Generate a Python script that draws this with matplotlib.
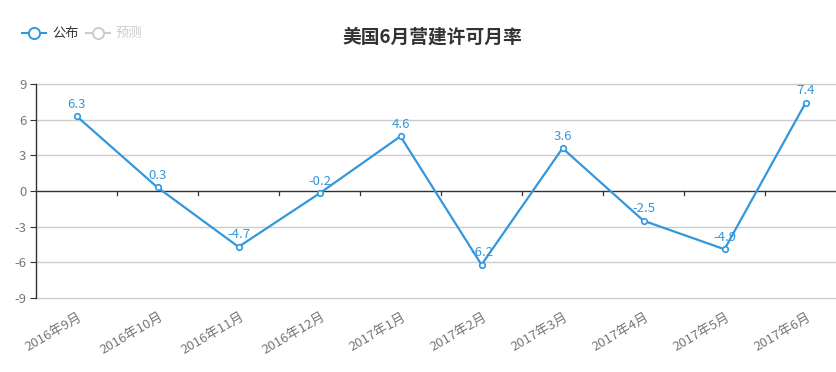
import matplotlib
matplotlib.use("Agg")
import matplotlib.pyplot as plt
from matplotlib.lines import Line2D

plt.rcParams['font.family'] = ['Noto Sans CJK SC', 'DejaVu Sans']

categories = ["2016年9月", "2016年10月", "2016年11月", "2016年12月", "2017年1月",
              "2017年2月", "2017年3月", "2017年4月", "2017年5月", "2017年6月"]
published = [6.3, 0.3, -4.7, -0.2, 4.6, -6.2, 3.6, -2.5, -4.9, 7.4]
yticks = [-9, -6, -3, 0, 3, 6, 9]
title = "美国6月营建许可月率"
legend_labels = ["公布", "预测"]

W, H = 837, 372
fig = plt.figure(figsize=(W / 100, H / 100), dpi=100)

left, right, top, bottom = 36, 846, 84, 298
ax = fig.add_axes([left / W, 1 - bottom / H, (right - left) / W, (bottom - top) / H])

blue = "#3398DB"
x = list(range(len(categories)))
ax.plot(x, published, color=blue, lw=1.6, marker='o', ms=4, mfc='white', mec=blue, mew=1.2, zorder=5,
        clip_on=False)
for xi, v in zip(x, published):
    ax.annotate(f"{v}", (xi, v), xytext=(0, 4), textcoords='offset points', ha='center', va='bottom',
                color=blue, fontsize=9.5, zorder=6)

ax.set_xlim(-0.5, len(categories) - 0.5)
ax.set_ylim(-9, 9)
ax.set_yticks(yticks)
ax.set_yticklabels([str(t) for t in yticks], color="#777777", fontsize=9.5)
for t in yticks:
    if t != 0:
        ax.axhline(t, color="#cccccc", lw=1.0, zorder=1, clip_on=False)
ax.axhline(0, color="#333333", lw=1.0, zorder=2)

# category boundary ticks on zero line
for b in range(len(categories)):
    bx = b + 0.5
    ax.plot([bx, bx], [0, -0.35], color="#333333", lw=0.9, zorder=2, clip_on=False)

ax.set_xticks([])
for xi, c in zip(x, categories):
    ax.annotate(c, (xi, -9), xytext=(1, -9), textcoords='offset points', ha='right', va='top',
                rotation=30, rotation_mode='anchor', color="#777777", fontsize=9.5, annotation_clip=False)

for s in ['top', 'right', 'bottom']:
    ax.spines[s].set_visible(False)
ax.spines['left'].set_color("#333333")
ax.spines['left'].set_linewidth(1.0)
ax.tick_params(axis='y', length=4, color="#333333", pad=3)

fig.text(432 / W, 1 - 37 / H, title, ha='center', va='center', fontsize=13.5, fontweight='bold',
         color="#333333")

# legend
def legend_item(x0, color, label, tcolor):
    fig.add_artist(Line2D([x0 / W, (x0 + 24) / W], [1 - 33 / H, 1 - 33 / H], color=color, lw=1.5,
                          marker=None, transform=fig.transFigure))
    fig.add_artist(Line2D([(x0 + 12) / W], [1 - 33 / H], color=color, marker='o', ms=8, mfc='white',
                          mec=color, mew=1.4, transform=fig.transFigure))
    fig.text((x0 + 30) / W, 1 - 33 / H, label, ha='left', va='center', fontsize=9.5, color=tcolor)

legend_item(22, blue, legend_labels[0], "#333333")
legend_item(86, "#cccccc", legend_labels[1], "#cccccc")

fig.savefig("out.png", dpi=100)
